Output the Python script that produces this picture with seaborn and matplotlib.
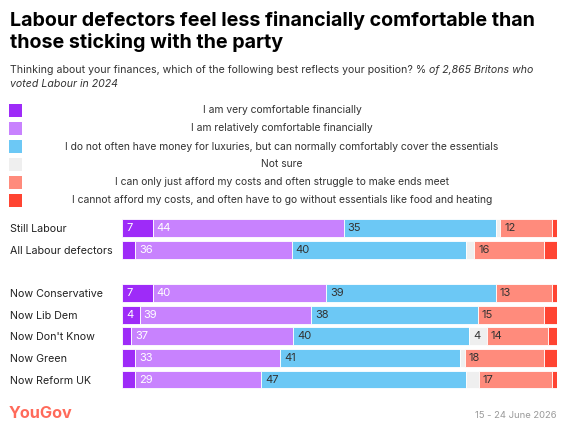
import numpy as np
import pandas as pd
import matplotlib.pyplot as plt
import seaborn as sns
from matplotlib.patches import Rectangle

# data (% of 2024 Labour voters)
groups = ["Still Labour", "All Labour defectors", "Now Conservative", "Now Lib Dem",
          "Now Don't Know", "Now Green", "Now Reform UK"]
very_comfortable = [7, 3, 7, 4, 2, 3, 3]
relatively_comfortable = [44, 36, 40, 39, 37, 33, 29]
cover_essentials = [35, 40, 39, 38, 40, 41, 47]
not_sure = [1, 2, 0, 0, 4, 1, 3]
just_afford = [12, 16, 13, 15, 14, 18, 17]
cannot_afford = [1, 3, 1, 3, 2, 3, 1]

answers = [
    "I am very comfortable financially",
    "I am relatively comfortable financially",
    "I do not often have money for luxuries, but can normally comfortably cover the essentials",
    "Not sure",
    "I can only just afford my costs and often struggle to make ends meet",
    "I cannot afford my costs, and often have to go without essentials like food and heating",
]
series = [very_comfortable, relatively_comfortable, cover_essentials,
          not_sure, just_afford, cannot_afford]
colors = ["#9E2BF8", "#C882FE", "#6CC8F5", "#EFEFEF", "#FF8B7C", "#FF4432"]
text_colors = ["white", "white", "#333333", "#333333", "#333333", "white"]

# blank slot separates the "still labour" block from the defectors breakdown
row_order = groups[:2] + [" "] + groups[2:]

sns.set_theme(style="white")
plt.rcParams["font.family"] = ["Inter", "DejaVu Sans"]

fig = plt.figure(figsize=(5.67, 4.32), dpi=100)
ax = fig.add_axes([0.2155, 0.0965, 0.7665, 0.40])

vals = np.array(series, dtype=float)
shares = vals / vals.sum(axis=0) * 100
left = np.zeros(len(groups))
for i, ans in enumerate(answers):
    sns.barplot(x=shares[i], y=groups, order=row_order, orient="h", color=colors[i],
                saturation=1, width=0.83, left=left, edgecolor="white", linewidth=0.6, ax=ax)
    for j, g in enumerate(groups):
        if vals[i, j] >= 4:
            ax.text(left[j] + 0.9, row_order.index(g), f"{int(vals[i, j])}",
                    va="center", ha="left", fontsize=8, color=text_colors[i])
    left = left + shares[i]

ax.set_xlim(0, 100)
ax.set_ylim(len(row_order) - 0.5, -0.5)
ax.set_xticks([])
ax.set_xlabel("")
ax.set_ylabel("")
sns.despine(ax=ax, left=True, bottom=True)
ax.tick_params(axis="y", length=0, pad=80.6, labelsize=7.7, labelcolor="#222222")
for lab in ax.get_yticklabels():
    lab.set_horizontalalignment("left")

# title and subtitle
fig.text(0.017, 1 - 26 / 432, "Labour defectors feel less financially comfortable than",
         ha="left", va="baseline", fontsize=14.2, fontweight="bold", color="black")
fig.text(0.017, 1 - 47.5 / 432, "those sticking with the party",
         ha="left", va="baseline", fontsize=14.2, fontweight="bold", color="black")
sub = fig.text(0.018, 1 - 73 / 432,
               "Thinking about your finances, which of the following best reflects your position? % ",
               ha="left", va="baseline", fontsize=7.6, color="#333333")
ax.annotate("of 2,865 Britons who", xy=(1, 0), xycoords=sub, ha="left", va="bottom",
            fontsize=7.6, style="italic", color="#333333")
fig.text(0.018, 1 - 87 / 432, "voted Labour in 2024", ha="left", va="baseline",
         fontsize=7.6, style="italic", color="#333333")

# legend: squares on the left, centred labels
legend_y = [110, 128, 146.7, 164.3, 182.3, 200]
for ans, col, y in zip(answers, colors, legend_y):
    fig.patches.append(Rectangle((9 / 567, 1 - (y + 6.5) / 432), 13 / 567, 13 / 432,
                                 transform=fig.transFigure, facecolor=col, edgecolor="none"))
    fig.text(282 / 567, 1 - y / 432, ans, ha="center", va="center", fontsize=7.45, color="#333333")

# footer
fig.text(0.016, 1 - 414 / 432, "YouGov", ha="left", va="center", fontsize=11.7,
         fontweight="bold", color="#FF6A5A")
fig.text(0.982, 1 - 415 / 432, "15 - 24 June 2026", ha="right", va="center",
         fontsize=6.8, color="#9A9A9A")

fig.savefig("out.png", dpi=100)
